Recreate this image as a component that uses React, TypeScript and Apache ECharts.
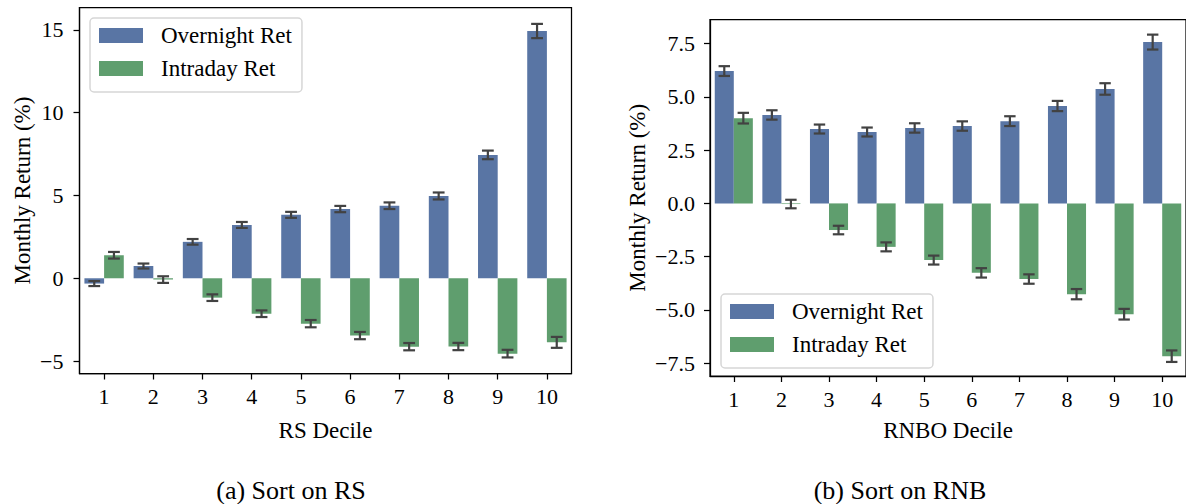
import React, { useEffect, useRef } from "react";
import * as echarts from "echarts";

const categories = ["1", "2", "3", "4", "5", "6", "7", "8", "9", "10"];

// Panel (a): sort on RS
const rsOvernight = [-0.32, 0.74, 2.2, 3.22, 3.83, 4.18, 4.38, 4.97, 7.45, 14.93];
const rsOvernightErr = [0.15, 0.15, 0.17, 0.18, 0.18, 0.19, 0.2, 0.21, 0.26, 0.43];
const rsIntraday = [1.39, -0.08, -1.17, -2.14, -2.74, -3.46, -4.13, -4.12, -4.55, -3.87];
const rsIntradayErr = [0.2, 0.2, 0.2, 0.2, 0.22, 0.22, 0.22, 0.22, 0.23, 0.33];
const rsTicks = [-5, 0, 5, 10, 15];

// Panel (b): sort on RNB
const rnbOvernight = [6.21, 4.15, 3.49, 3.35, 3.54, 3.63, 3.86, 4.57, 5.37, 7.57];
const rnbOvernightErr = [0.23, 0.22, 0.21, 0.21, 0.22, 0.22, 0.23, 0.24, 0.27, 0.35];
const rnbIntraday = [4.0, -0.03, -1.25, -2.04, -2.66, -3.26, -3.55, -4.26, -5.2, -7.17];
const rnbIntradayErr = [0.25, 0.2, 0.2, 0.21, 0.21, 0.22, 0.22, 0.24, 0.25, 0.27];
const rnbTicks = [-7.5, -5, -2.5, 0, 2.5, 5, 7.5];

const seriesNames = ["Overnight Ret", "Intraday Ret"];
const colors = ["#5975a4", "#5f9e6e"];

const FONT = "Liberation Serif";
const FS_TEXT = 23;
const FS_TICK = 22;

const minus = (s: string) => s.replace("-", "\u2212");

function errSeries(
  values: number[],
  errs: number[],
  offset: number,
  axisIndex: number
) {
  return {
    type: "custom",
    xAxisIndex: axisIndex,
    yAxisIndex: axisIndex,
    z: 10,
    silent: true,
    data: values.map((v, i) => [i, v, errs[i]]),
    encode: { x: 0, y: 1 },
    renderItem: (params: any, api: any) => {
      const x = api.value(0);
      const y = api.value(1);
      const e = api.value(2);
      const top = api.coord([x, y + e]);
      const bot = api.coord([x, y - e]);
      const band = api.size([1, 0])[0];
      const cx = top[0] + offset * band;
      const cap = band * 0.12;
      const style = { stroke: "#424242", lineWidth: 2.2 };
      return {
        type: "group",
        children: [
          { type: "line", shape: { x1: cx, y1: top[1], x2: cx, y2: bot[1] }, style },
          { type: "line", shape: { x1: cx - cap, y1: top[1], x2: cx + cap, y2: top[1] }, style },
          { type: "line", shape: { x1: cx - cap, y1: bot[1], x2: cx + cap, y2: bot[1] }, style },
        ],
      };
    },
  };
}

function xAxisDef(gridIndex: number, name: string, nameGap: number) {
  return {
    type: "category",
    gridIndex,
    data: categories,
    name,
    nameLocation: "middle",
    nameGap,
    nameTextStyle: { fontFamily: FONT, fontSize: FS_TEXT, color: "#000" },
    axisLine: { show: true, onZero: false, lineStyle: { color: "#000", width: 1.25 } },
    axisTick: { show: true, alignWithLabel: true, length: 6, lineStyle: { color: "#000", width: 1.25 } },
    axisLabel: { fontFamily: FONT, fontSize: FS_TICK, color: "#000", margin: 12 },
    splitLine: { show: false },
  };
}

function yAxisDef(
  gridIndex: number,
  min: number,
  max: number,
  ticks: number[],
  fmt: (v: number) => string,
  nameGap: number,
  margin: number
) {
  return {
    type: "value",
    gridIndex,
    min,
    max,
    name: "Monthly Return (%)",
    nameLocation: "middle",
    nameGap,
    nameTextStyle: { fontFamily: FONT, fontSize: FS_TEXT, color: "#000" },
    axisLine: { show: true, lineStyle: { color: "#000", width: 1.25 } },
    axisTick: { show: true, length: 6, customValues: ticks, lineStyle: { color: "#000", width: 1.25 } },
    axisLabel: {
      fontFamily: FONT,
      fontSize: FS_TICK,
      color: "#000",
      margin,
      customValues: ticks,
      formatter: (v: number) => minus(fmt(v)),
    },
    splitLine: { show: false },
  };
}

function legendDef(left: number, top: number) {
  return {
    orient: "vertical",
    left,
    top,
    data: seriesNames,
    icon: "rect",
    itemWidth: 44,
    itemHeight: 15,
    itemGap: 10,
    padding: [6, 10, 12, 9],
    borderColor: "#d6d6d6",
    borderWidth: 1.5,
    borderRadius: 4,
    backgroundColor: "rgba(255,255,255,0.85)",
    textStyle: {
      fontFamily: FONT,
      fontSize: FS_TEXT,
      color: "#000",
      lineHeight: 23,
      padding: [0, 0, 0, 13],
    },
  };
}

export default function App() {
  const ref = useRef<HTMLDivElement>(null);

  useEffect(() => {
    if (!ref.current) return;
    const chart = echarts.init(ref.current, null, { renderer: "svg" });

    const barBase = {
      type: "bar",
      barGap: "0%",
      barCategoryGap: "20%",
    };

    chart.setOption({
      animation: false,
      color: colors,
      textStyle: { fontFamily: FONT },
      grid: [
        { left: 79.5, top: 7.5, width: 492, height: 366, show: true, borderColor: "#000", borderWidth: 1.25, backgroundColor: "transparent", containLabel: false },
        { left: 710, top: 19.5, width: 480, height: 356.5, show: true, borderColor: "#000", borderWidth: 1.25, backgroundColor: "transparent", containLabel: false },
      ],
      xAxis: [xAxisDef(0, "RS Decile", 45), xAxisDef(1, "RNBO Decile", 43)],
      yAxis: [
        yAxisDef(0, -5.75, 16.35, rsTicks, (v) => String(v), 46, 16),
        yAxisDef(1, -8.1, 8.63, rnbTicks, (v) => v.toFixed(1), 61, 15),
      ],
      legend: [legendDef(90, 18), legendDef(721, 294)],
      series: [
        { ...barBase, name: seriesNames[0], xAxisIndex: 0, yAxisIndex: 0, data: rsOvernight, itemStyle: { color: colors[0] } },
        { ...barBase, name: seriesNames[1], xAxisIndex: 0, yAxisIndex: 0, data: rsIntraday, itemStyle: { color: colors[1] } },
        { ...barBase, name: seriesNames[0], xAxisIndex: 1, yAxisIndex: 1, data: rnbOvernight, itemStyle: { color: colors[0] } },
        { ...barBase, name: seriesNames[1], xAxisIndex: 1, yAxisIndex: 1, data: rnbIntraday, itemStyle: { color: colors[1] } },
        errSeries(rsOvernight, rsOvernightErr, -0.2, 0),
        errSeries(rsIntraday, rsIntradayErr, 0.2, 0),
        errSeries(rnbOvernight, rnbOvernightErr, -0.2, 1),
        errSeries(rnbIntraday, rnbIntradayErr, 0.2, 1),
      ],
      graphic: [
        {
          type: "text",
          x: 291,
          y: 490,
          style: { text: "(a) Sort on RS", fontFamily: FONT, fontSize: 26, fill: "#000", align: "center", verticalAlign: "middle" },
        },
        {
          type: "text",
          x: 900,
          y: 490,
          style: { text: "(b) Sort on RNB", fontFamily: FONT, fontSize: 26, fill: "#000", align: "center", verticalAlign: "middle" },
        },
      ],
    });

    return () => chart.dispose();
  }, []);

  return (
    <div
      ref={ref}
      style={{ position: "absolute", left: 0, top: 0, width: 1186, height: 504, background: "#fff" }}
    />
  );
}
